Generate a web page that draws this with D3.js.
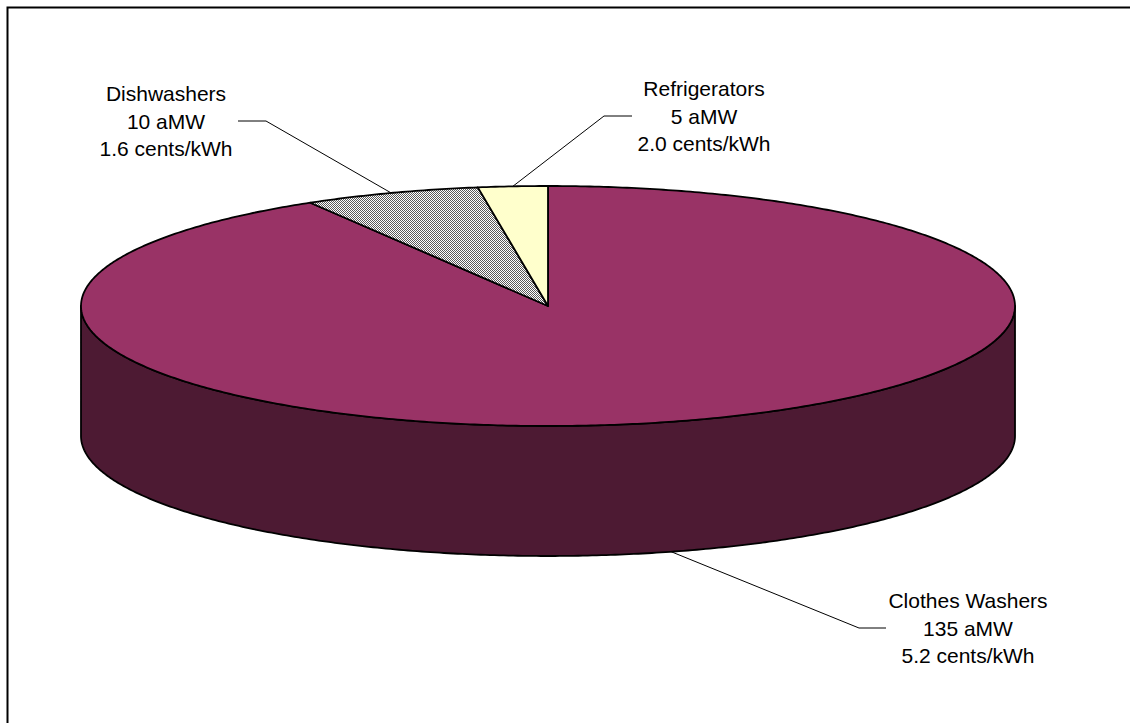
<!DOCTYPE html>
<html>
<head>
<meta charset="utf-8">
<script src="https://cdn.jsdelivr.net/npm/d3@7"></script>
<style>
  html, body { margin: 0; padding: 0; background: #fff; }
  svg { display: block; }
  text { font-family: "Liberation Sans", Arial, sans-serif; }
</style>
</head>
<body>
<svg id="chart" width="1130" height="723"></svg>
<script>
// ---- data ----
const categories = ["Clothes Washers", "Dishwashers", "Refrigerators"];
const aMW = [135, 10, 5];                 // label values
const centsPerKWh = [5.2, 1.6, 2.0];      // label values
// share of the pie as drawn in the picture (percent)
const sliceShare = [91.5, 6.1, 2.4];

// ---- layout ----
const W = 1130, H = 723;
const cx = 548, cy = 306, rx = 467, ry = 120, depth = 130;
const topColors = ["#993366", "url(#dots)", "#ffffcc"];
const sideColors = ["#4d1a33", "#666666", "#99997a"];
const lineH = 27.5;
const labelLayout = [
  { x: 968, y: 628, elbow: [859, 628], end: [886, 628], bottom: true },
  { x: 166, y: 121, elbow: [266, 121], end: [238, 121], bottom: false },
  { x: 704, y: 116, elbow: [604, 116], end: [632, 116], bottom: false }
];

const svg = d3.select("#chart");
const defs = svg.append("defs");
const pat = defs.append("pattern").attr("id", "dots")
  .attr("width", 2).attr("height", 2).attr("patternUnits", "userSpaceOnUse");
pat.append("rect").attr("width", 2).attr("height", 2).attr("fill", "#ffffff");
pat.append("rect").attr("x", 0).attr("y", 0).attr("width", 1).attr("height", 1).attr("fill", "#5a5a5a");
pat.append("rect").attr("x", 1).attr("y", 1).attr("width", 1).attr("height", 1).attr("fill", "#5a5a5a");

// frame
svg.append("rect").attr("x", 7.5).attr("y", 7.5).attr("width", W + 20).attr("height", H + 20)
  .attr("fill", "none").attr("stroke", "#000").attr("stroke-width", 2);

const pie = d3.pie().sort(null).value(d => d)(sliceShare);
const px = a => cx + rx * Math.sin(a);
const py = a => cy - ry * Math.cos(a);
const line = d3.line();

function arcPoints(a0, a1, dy) {
  const n = Math.max(2, Math.ceil(Math.abs(a1 - a0) / 0.01));
  return d3.range(n + 1).map(i => {
    const a = a0 + (a1 - a0) * i / n;
    return [px(a), py(a) + dy];
  });
}

// side walls (only the front half is visible)
const frontA = Math.PI / 2, frontB = 3 * Math.PI / 2;
pie.forEach((s, i) => {
  const a0 = Math.max(s.startAngle, frontA), a1 = Math.min(s.endAngle, frontB);
  if (a1 <= a0) return;
  const pts = arcPoints(a0, a1, 0).concat(arcPoints(a1, a0, depth));
  svg.append("path").attr("d", line(pts) + "Z")
    .attr("fill", sideColors[i]).attr("stroke", "#000").attr("stroke-width", 1.8)
    .attr("stroke-linejoin", "round");
});

// top faces
pie.forEach((s, i) => {
  const pts = [[cx, cy]].concat(arcPoints(s.startAngle, s.endAngle, 0));
  svg.append("path").attr("d", line(pts) + "Z")
    .attr("fill", topColors[i]).attr("stroke", "#000").attr("stroke-width", 1.8)
    .attr("stroke-linejoin", "round");
});

// leader lines and labels
pie.forEach((s, i) => {
  const L = labelLayout[i];
  const mid = (s.startAngle + s.endAngle) / 2;
  const anchor = [px(mid), py(mid) + (L.bottom ? depth : 0)];
  svg.append("path").attr("d", line([anchor, L.elbow, L.end]))
    .attr("fill", "none").attr("stroke", "#000").attr("stroke-width", 1);
  const lines = [categories[i], aMW[i] + " aMW", centsPerKWh[i].toFixed(1) + " cents/kWh"];
  const t = svg.append("text").attr("text-anchor", "middle").attr("font-size", 21).attr("fill", "#000");
  lines.forEach((str, k) => {
    t.append("tspan").attr("x", L.x).attr("y", L.y + (k - 1) * lineH + 7.5).text(str);
  });
});
</script>
</body>
</html>
